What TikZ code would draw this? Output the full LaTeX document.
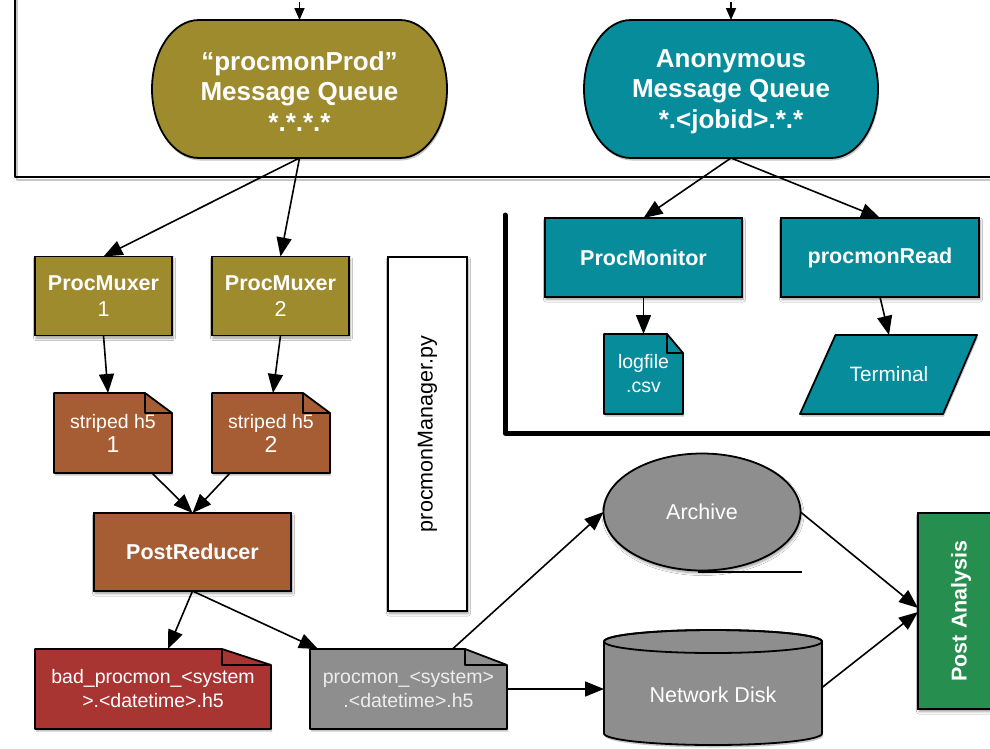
\documentclass[tikz,border=0pt]{standalone}
\usepackage{fontspec}
\setmainfont{Liberation Sans}
\usetikzlibrary{arrows.meta,shapes.geometric,shadows.blur}

\definecolor{qolive}{HTML}{9D8B2E}
\definecolor{qteal}{HTML}{078C9C}
\definecolor{fsienna}{HTML}{A65D34}
\definecolor{fred}{HTML}{A83532}
\definecolor{fgray}{HTML}{8E8E8E}
\definecolor{pgreen}{HTML}{268F4F}

\tikzset{
  every node/.style={inner sep=0pt, outer sep=0pt, text=white, align=center},
  shapeline/.style={draw=black, line width=1.8pt},
  boxshadow/.style={blur shadow={shadow xshift=1pt, shadow yshift=-2.5pt,
      shadow blur radius=2.5pt, shadow blur steps=6, shadow opacity=40}},
  pathshadow/.style={preaction={fill=black, opacity=0.22,
      transform canvas={xshift=1pt, yshift=-2.5pt}}},
  conn/.style={line width=1.6pt, -{Triangle[length=19pt,width=15pt]}},
  topconn/.style={line width=1.6pt, -{Triangle[length=12pt,width=10pt]}},
  boldtext/.style={font=\fontsize{21.5}{26}\selectfont\bfseries},
  plaintext/.style={font=\fontsize{21.5}{26}\selectfont},
  filetext/.style={font=\fontsize{19.5}{24}\selectfont},
  procbox/.style={shapeline, boxshadow, minimum height=79pt},
  queuetext/.style={font=\fontsize{26}{30.5}\selectfont\bfseries},
  frame/.style={minimum width=100pt, minimum height=80pt}
}

% folded-corner document: text options, name, centre, width, height, fold width, fold height, fill, text
\newcommand\docfile[9]{%
  \node[frame, minimum width=#4, minimum height=#5] (#2) at (#3) {};
  \filldraw[shapeline, fill=#8, line join=round, pathshadow]
    (#2.south west) -- (#2.north west) -- ([xshift=-#6]#2.north east)
    -- ([yshift=-#7]#2.north east) -- (#2.south east) -- cycle;
  \draw[shapeline, line join=round]
    ([xshift=-#6]#2.north east) -- ([xshift=-#6, yshift=-#7]#2.north east)
    -- ([yshift=-#7]#2.north east);
  \node[#1] (#2-text) at (#2.center) {#9};}

% pill-shaped queue with elliptic ends: name, fill
\newcommand\queueshape[2]{%
  \filldraw[shapeline, fill=#2, pathshadow]
    ([xshift=47pt]#1.north west) -- ([xshift=-47pt]#1.north east)
    arc[start angle=90, end angle=-90, x radius=47pt, y radius=69pt]
    -- ([xshift=47pt]#1.south west)
    arc[start angle=270, end angle=90, x radius=47pt, y radius=69pt]
    -- cycle;}

\begin{document}
\begin{tikzpicture}[x=1pt, y=-1pt]
\fill[white] (0,0) rectangle (990,748);
\useasboundingbox (0,0) rectangle (990,748);
\clip (0,0) rectangle (990,748);

% ---------- upper frame (message queues) ----------
\coordinate (fa) at (15,-10);
\coordinate (fb) at (15,177);
\coordinate (fc) at (1010,177);
\coordinate (fas) at (17,-10);
\coordinate (fbs) at (17,180);
\coordinate (fcs) at (1010,180);
\draw[line width=2.5pt, black!22, line join=round] (fas) -- (fbs) -- (fcs);
\draw[line width=2pt, line join=round] (fa) -- (fb) -- (fc);

\node[minimum width=295pt, minimum height=138pt] (q1) at (299.5,89) {};
\queueshape{q1}{qolive}
\node[queuetext] (q1-text) at ([yshift=-2.5pt]q1.center) {“procmonProd”\\Message Queue\\*.*.*.*};
\node[minimum width=294pt, minimum height=138pt] (q2) at (731,89) {};
\queueshape{q2}{qteal}
\node[queuetext] (q2-text) at ([yshift=-2.5pt]q2.center) {Anonymous\\Message Queue\\*.<jobid>.*.*};

\coordinate (in1) at (299.5,2);
\coordinate (in2) at (731,2);
\draw[topconn] (in1) -- (q1.north);
\draw[topconn] (in2) -- (q2.north);

% ---------- procmonProd branch ----------
\node[procbox, fill=qolive, plaintext, minimum width=137pt] (m1) at (103.5,296) {\textbf{ProcMuxer}\\1};
\node[procbox, fill=qolive, plaintext, minimum width=137pt] (m2) at (280.5,296) {\textbf{ProcMuxer}\\2};

\docfile{filetext}{s1}{113,433}{118pt}{80pt}{27pt}{20pt}{fsienna}{striped h5\\{\fontsize{23}{24}\selectfont 1}}
\docfile{filetext}{s2}{271,433}{118pt}{80pt}{27pt}{20pt}{fsienna}{striped h5\\{\fontsize{23}{24}\selectfont 2}}

\node[procbox, fill=fsienna, boldtext, minimum width=197pt, minimum height=78pt] (pr) at (192.5,552) {PostReducer};

\docfile{filetext}{bf}{153,689}{236pt}{80pt}{49pt}{16pt}{fred}{bad\_procmon\_<system\\>.<datetime>.h5}
\docfile{filetext, text=black!7}{pf}{408.5,689}{197pt}{80pt}{42pt}{16pt}{fgray}{procmon\_<system>\\.<datetime>.h5}

\draw[conn] (q1.south) -- (m1.north);
\draw[conn] (q1.south) -- (m2.north);
\draw[conn] (m1.south) -- ([xshift=-5pt]s1.north);
\draw[conn] (m2.south) -- ([xshift=2pt]s2.north);
\draw[conn] ([xshift=39pt]s1.south) -- (pr.north);
\draw[conn] ([xshift=-41pt]s2.south) -- (pr.north);
\draw[conn] (pr.south) -- ([xshift=15pt]bf.north);
\draw[conn] (pr.south) -- ([xshift=8pt]pf.north west);

% ---------- manager ----------
\node[shapeline, boxshadow, fill=white, text=black, rotate=90, plaintext,
      minimum width=354pt, minimum height=79pt] (mgr) at (427.5,434) {procmonManager.py};

% ---------- live monitoring frame ----------
\coordinate (la) at (505,215);
\coordinate (lb) at (505,433);
\coordinate (lc) at (1010,433);
\draw[line width=5pt, line cap=round, line join=round] (la) -- (lb) -- (lc);

\node[procbox, fill=qteal, boldtext, minimum width=197pt] (pm) at (643.5,257.5) {ProcMonitor};
\node[procbox, fill=qteal, boldtext, minimum width=198pt] (rd) at (880,257.5) {procmonRead};

\docfile{filetext}{lf}{643.5,374}{79pt}{80pt}{16pt}{19pt}{qteal}{logfile\\.csv}

\node[minimum width=142pt, minimum height=79pt] (term) at (889,374.5) {};
\filldraw[shapeline, fill=qteal, line join=round, pathshadow]
  ([xshift=17.5pt]term.north west) -- ([xshift=17pt]term.north east)
  -- ([xshift=-17pt]term.south east) -- ([xshift=-18pt]term.south west) -- cycle;
\node[font=\fontsize{20.8}{26}\selectfont] (term-text) at (term.center) {Terminal};

\draw[conn] (q2.south) -- (pm.north);
\draw[conn] (q2.south) -- (rd.north);
\draw[conn] (pm.south) -- (lf.north);
\draw[conn] (rd.south) -- (term.north);

% ---------- storage and analysis ----------
\node[ellipse, shapeline, boxshadow, fill=fgray, plaintext, minimum width=197pt,
      minimum height=117pt] (arch) at (702,512) {Archive};
\coordinate (ul1) at (698,572);
\coordinate (ul2) at (802,572);
\draw[line width=1.4pt] (ul1) -- (ul2);

\node[minimum width=218pt, minimum height=92pt] (nd) at (713,687.5) {};
\filldraw[shapeline, fill=fgray, pathshadow]
  (nd.north west) -- (nd.south west)
  arc[start angle=180, end angle=360, x radius=109pt, y radius=11.5pt]
  -- (nd.north east)
  arc[start angle=0, end angle=180, x radius=109pt, y radius=11.5pt] -- cycle;
\draw[shapeline] (nd.north) ellipse[x radius=109pt, y radius=11.5pt];
\node[plaintext] (nd-text) at ([yshift=-7pt]nd.center) {Network Disk};

\node[shapeline, boxshadow, fill=pgreen, rotate=90, boldtext,
      minimum width=196pt, minimum height=86pt] (pa) at (961,611) {Post Analysis};

\draw[conn] ([xshift=44pt]pf.north) -- (arch.west);
\draw[conn] (pf.east) -- (pf.east -| nd.west);
\draw[conn] (arch.east) -- ([yshift=3pt]pa.north);
\draw[conn] (nd.east) -- ([yshift=-1pt]pa.north);
\end{tikzpicture}
\end{document}
